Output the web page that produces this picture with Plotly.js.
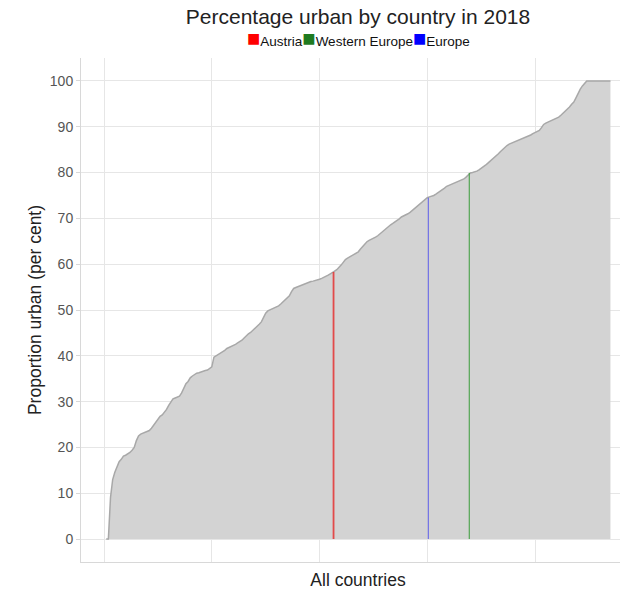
<!DOCTYPE html>
<html><head><meta charset="utf-8">
<script src="https://cdn.plot.ly/plotly-3.0.1.min.js"></script>
<style>html,body{margin:0;padding:0;overflow:hidden;background:#fff}#chart{width:636px;height:591px}</style>
</head><body><div id="chart"></div>
<script>
// Urban share (%) of every country, sorted ascending (rank 1..N)
const urbanSorted = [
  0, 0, 9.1, 13.0, 14.6, 16.0, 16.9, 17.4, 18.1, 18.3,
  18.6, 18.9, 19.4, 20.0, 21.5, 22.5, 22.9, 23.1, 23.3, 23.5,
  23.7, 24.2, 24.8, 25.4, 26.1, 26.8, 27.1, 27.6, 28.3, 29.2,
  29.9, 30.6, 30.8, 31.0, 31.2, 31.9, 33.0, 33.9, 34.4, 35.2,
  35.6, 36.0, 36.2, 36.3, 36.5, 36.6, 36.8, 36.9, 37.2, 37.6,
  39.7, 40.0, 40.2, 40.5, 40.8, 41.2, 41.6, 41.8, 42.0, 42.3,
  42.5, 42.8, 43.1, 43.4, 43.9, 44.4, 44.8, 45.1, 45.5, 45.9,
  46.4, 46.9, 47.4, 48.3, 49.3, 49.8, 50.0, 50.2, 50.4, 50.7,
  50.9, 51.3, 51.7, 52.2, 52.6, 53.1, 54.0, 54.7, 54.9, 55.1,
  55.3, 55.5, 55.6, 55.8, 56.0, 56.2, 56.3, 56.4, 56.6, 56.7,
  56.9, 57.1, 57.3, 57.6, 57.9, 58.3, 58.5, 58.8, 59.2, 59.8,
  60.4, 61.0, 61.3, 61.6, 61.9, 62.2, 62.4, 62.7, 63.3, 63.9,
  64.4, 64.9, 65.2, 65.4, 65.7, 65.9, 66.2, 66.6, 67.0, 67.5,
  68.0, 68.3, 68.6, 68.9, 69.2, 69.5, 69.9, 70.3, 70.5, 70.8,
  71.0, 71.3, 71.7, 72.0, 72.4, 72.8, 73.1, 73.6, 74.1, 74.5,
  74.7, 74.8, 75.0, 75.3, 75.6, 75.9, 76.2, 76.6, 77.0, 77.2,
  77.4, 77.6, 77.8, 77.9, 78.1, 78.3, 78.6, 79.0, 79.5, 79.9,
  80.0, 80.1, 80.3, 80.6, 80.9, 81.2, 81.6, 82.0, 82.4, 82.7,
  83.2, 83.6, 84.1, 84.6, 85.1, 85.6, 85.9, 86.2, 86.4, 86.5,
  86.7, 86.9, 87.1, 87.3, 87.6, 87.8, 88.0, 88.2, 88.5, 88.7,
  88.9, 89.2, 89.8, 90.5, 90.8, 91.0, 91.3, 91.5, 91.7, 91.8,
  92.1, 92.5, 92.9, 93.4, 93.9, 94.3, 94.9, 95.4, 96.3, 97.3,
  98.2, 98.9, 99.5, 100, 100, 100, 100, 100, 100, 100,
  100, 100, 100, 100, 100
];
// Reference markers
const refNames  = ['Austria', 'Western Europe', 'Europe'];
const refValues = [58.3, 79.9, 74.5];
const refRanks  = [106.5, 169.5, 150.5];
const yTicks    = [0, 10, 20, 30, 40, 50, 60, 70, 80, 90, 100];

const refLineColors = ['rgba(230,40,40,0.8)', 'rgba(40,150,40,0.75)', 'rgba(60,60,240,0.65)'];
const refLineWidths = [1.8, 1.2, 1.2];
const refKeyColors  = ['#ff0000', '#1f7a1f', '#0000ff'];

const ranks = urbanSorted.map((_, i) => i + 1);
const FONT = 'Liberation Sans, Arial, sans-serif';

const traces = [{
  type: 'scatter', mode: 'lines', x: ranks, y: urbanSorted,
  fill: 'tozeroy', fillcolor: '#d3d3d3',
  line: {color: '#a8a8a8', width: 1.5}, hoverinfo: 'skip', showlegend: false
}];
refNames.forEach((n, i) => {
  traces.push({
    type: 'scatter', mode: 'lines', name: n,
    x: [refRanks[i], refRanks[i]], y: [0, refValues[i]],
    line: {color: refLineColors[i], width: refLineWidths[i]}, showlegend: false
  });
});

const keyText = refNames.map((n, i) =>
  '<span style="color:' + refKeyColors[i] + ';font-size:22px">■</span>' + n).join('');

const layout = {
  width: 636, height: 591,
  margin: {l: 81, r: 1, t: 58, b: 29},
  paper_bgcolor: '#fff', plot_bgcolor: '#fff',
  font: {family: FONT, color: '#222'},
  showlegend: false,
  title: {text: 'Percentage urban by country in 2018', font: {size: 21, color: '#222', family: FONT},
          x: 0.5, xref: 'paper', xanchor: 'center', y: 1 - 17 / 591, yref: 'container', yanchor: 'middle'},
  xaxis: {
    range: [-10.7, 246.4], tick0: 0, dtick: 50, showticklabels: false, ticks: '',
    showgrid: true, gridcolor: '#e6e6e6', gridwidth: 1, zeroline: false,
    showline: true, linecolor: '#d8d8d8', linewidth: 1,
    title: {text: 'All countries', font: {size: 17.5, color: '#222'}, standoff: 11}
  },
  yaxis: {
    range: [-5, 105], tickvals: yTicks, ticktext: yTicks.map(String),
    ticks: 'outside', ticklen: 4, tickcolor: '#d8d8d8',
    tickfont: {size: 14, color: '#555'},
    showgrid: true, gridcolor: '#e6e6e6', gridwidth: 1, zeroline: false,
    showline: true, linecolor: '#d8d8d8', linewidth: 1,
    title: {text: 'Proportion urban (per cent)', font: {size: 17.5, color: '#222'}, standoff: 3}
  },
  annotations: [{
    text: keyText, showarrow: false, xref: 'paper', yref: 'paper',
    x: 0.5, y: 1 + 19 / 504, xanchor: 'center', yanchor: 'middle',
    font: {size: 13.5, color: '#111', family: FONT}
  }]
};
Plotly.newPlot('chart', traces, layout, {displayModeBar: false, staticPlot: true});
</script></body></html>
